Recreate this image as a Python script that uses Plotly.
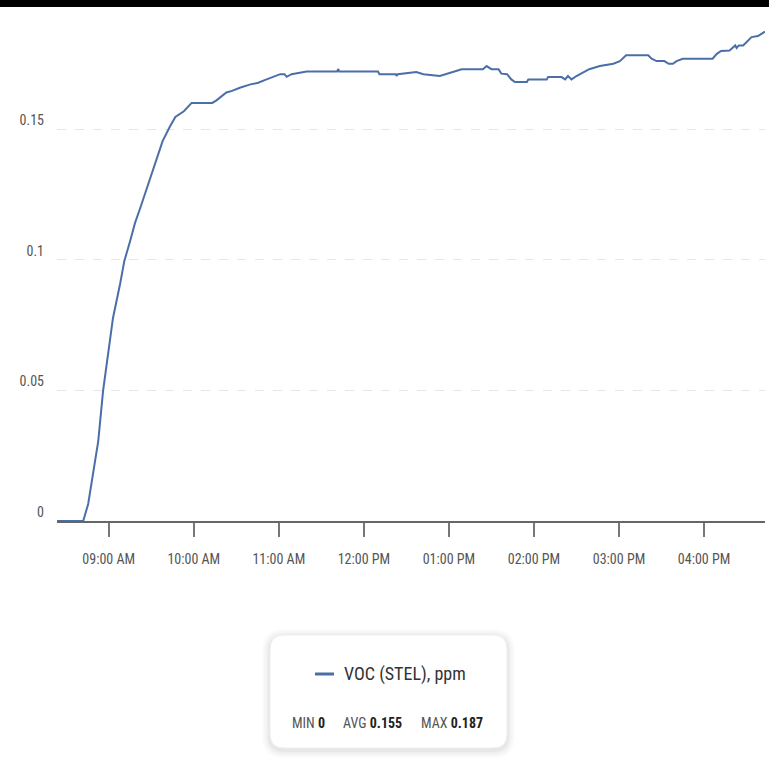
import plotly.graph_objects as go

# ---- data ----
times = [
    "08:23:30", "08:42:00", "08:45:30", "08:49:00", "08:52:36", "08:56:00", "09:00:00",
    "09:03:00", "09:08:00", "09:11:00", "09:15:00", "09:18:30", "09:22:00", "09:27:00",
    "09:30:00", "09:35:00", "09:38:00", "09:43:00", "09:47:00", "09:53:00", "09:58:30",
    "10:04:00", "10:13:00", "10:16:00", "10:20:00", "10:23:00", "10:27:00", "10:32:30",
    "10:40:00", "10:45:30", "10:50:00", "10:56:00", "11:01:00", "11:04:00", "11:05:30",
    "11:09:00", "11:19:36", "11:41:00", "11:42:00", "11:42:30", "12:10:00", "12:11:00",
    "12:22:36", "12:23:00", "12:24:00", "12:37:00", "12:42:00", "12:53:36", "13:02:00",
    "13:09:00", "13:24:00", "13:26:36", "13:30:00", "13:35:00", "13:37:00", "13:41:00",
    "13:44:00", "13:46:36", "13:55:00", "13:56:00", "14:09:00", "14:10:00", "14:19:30",
    "14:22:00", "14:24:00", "14:26:30", "14:30:00", "14:35:00", "14:39:00", "14:46:30",
    "14:56:00", "15:00:36", "15:05:00", "15:20:36", "15:23:00", "15:26:30", "15:32:00",
    "15:35:00", "15:38:00", "15:40:36", "15:45:00", "16:06:00", "16:09:00", "16:12:00",
    "16:18:00", "16:22:00", "16:23:00", "16:24:30", "16:27:36", "16:33:30", "16:38:00",
    "16:43:00",
]
voc_stel = [
    0.0, 0.0, 0.0065, 0.018, 0.0306, 0.0498, 0.065,
    0.0777, 0.0907, 0.0995, 0.107, 0.114, 0.1194, 0.1274,
    0.1328, 0.1405, 0.1454, 0.1508, 0.1546, 0.1568, 0.160,
    0.160, 0.160, 0.161, 0.1626, 0.164, 0.1646, 0.1658,
    0.1671, 0.1677, 0.1687, 0.170, 0.171, 0.171, 0.170,
    0.171, 0.172, 0.172, 0.173, 0.172, 0.172, 0.171,
    0.171, 0.1703, 0.171, 0.1718, 0.171, 0.1703, 0.1718,
    0.1729, 0.1729, 0.1741, 0.1729, 0.1729, 0.1712, 0.171,
    0.169, 0.168, 0.168, 0.169, 0.169, 0.1699, 0.1699,
    0.169, 0.1703, 0.169, 0.1703, 0.1716, 0.1729, 0.1741,
    0.175, 0.176, 0.1782, 0.1782, 0.1769, 0.176, 0.176,
    0.175, 0.175, 0.176, 0.1769, 0.1769, 0.1788, 0.1799,
    0.1801, 0.182, 0.181, 0.182, 0.182, 0.1852, 0.1856,
    0.1873,
]
series_name = "VOC (STEL), ppm"
stat_labels = ["MIN", "AVG", "MAX"]
stat_values = ["0", "0.155", "0.187"]
y_ticks = [0, 0.05, 0.1, 0.15]
y_tick_text = ["0", "0.05", "0.1", "0.15"]

DAY = "2024-01-01 "
x_vals = [DAY + t for t in times]

LINE = "#4a6fa8"
FONT = "Roboto Condensed, Roboto, sans-serif"

# layout geometry (pixels)
W, H = 769, 760
L, R, T, B = 57, 4, 10, 239
PW = W - L - R
PH = H - T - B


def px(x):
    return (x - L) / PW


def py(y):
    return (H - B - y) / PH


def rrect(x0, y0, x1, y1, r):
    # rounded rectangle path in paper coordinates, from pixel box
    X0, X1 = px(x0), px(x1)
    Y0, Y1 = py(y0), py(y1)  # Y0 top (bigger), Y1 bottom
    rx, ry = r / PW, r / PH
    return (f"M {X0+rx},{Y0} L {X1-rx},{Y0} Q {X1},{Y0} {X1},{Y0-ry} "
            f"L {X1},{Y1+ry} Q {X1},{Y1} {X1-rx},{Y1} L {X0+rx},{Y1} "
            f"Q {X0},{Y1} {X0},{Y1+ry} L {X0},{Y0-ry} Q {X0},{Y0} {X0+rx},{Y0} Z")


fig = go.Figure()
fig.add_trace(go.Scatter(
    x=x_vals, y=voc_stel, mode="lines", name=series_name,
    line=dict(color=LINE, width=2), showlegend=False,
))

shapes = []
# top black bar
shapes.append(dict(type="rect", xref="paper", yref="paper",
                   x0=px(0), x1=px(W), y0=py(7), y1=py(0),
                   fillcolor="black", line=dict(width=0), layer="above"))
# legend box shadow + box
for i, a in [(8, 0.015), (6, 0.02), (4, 0.025), (2, 0.035)]:
    shapes.append(dict(type="path", xref="paper", yref="paper",
                       path=rrect(270 - i, 635 - i + 2, 507 + i, 748 + i + 2, 14 + i),
                       fillcolor=f"rgba(0,0,0,{a})", line=dict(width=0)))
shapes.append(dict(type="path", xref="paper", yref="paper",
                   path=rrect(270, 635, 507, 748, 14),
                   fillcolor="white", line=dict(color="#eeeeee", width=1)))
# legend line sample
shapes.append(dict(type="line", xref="paper", yref="paper",
                   x0=px(315), x1=px(334), y0=py(674), y1=py(674),
                   line=dict(color=LINE, width=3)))

annotations = [dict(
    xref="paper", yref="paper", x=px(342), y=py(674), xanchor="left", yanchor="middle",
    text=series_name, showarrow=False, font=dict(family=FONT, size=18, color="#333333"),
)]
stat_centers = [308, 372, 452]
for lab, val, cx in zip(stat_labels, stat_values, stat_centers):
    annotations.append(dict(
        xref="paper", yref="paper", x=px(cx), y=py(723), xanchor="center", yanchor="middle",
        text=f"<span style='color:#555555'>{lab}</span> <b>{val}</b>",
        showarrow=False, font=dict(family=FONT, size=14, color="#222222"),
    ))

fig.update_layout(
    width=W, height=H,
    margin=dict(l=L, r=R, t=T, b=B, pad=0),
    paper_bgcolor="white", plot_bgcolor="white",
    shapes=shapes, annotations=annotations,
    showlegend=False,
    xaxis=dict(
        type="date",
        range=[DAY + "08:23:30", DAY + "16:43:00"],
        tick0=DAY + "09:00:00", dtick=3600000,
        tickformat="%I:%M %p",
        showgrid=False, zeroline=False,
        showline=True, linecolor="#666666", linewidth=1.5,
        ticks="outside", ticklen=14, tickwidth=1.5, tickcolor="#777777",
        ticklabelstandoff=10,
        tickfont=dict(family=FONT, size=14, color="#555555"),
    ),
    yaxis=dict(
        range=[0, PH / 2613],
        tickvals=y_ticks, ticktext=y_tick_text,
        showgrid=True, gridcolor="#e6e6e6", griddash="dash", gridwidth=1,
        zeroline=False, showline=False, ticks="",
        ticklabelstandoff=12, ticklabelshift=-9,
        tickfont=dict(family=FONT, size=14, color="#555555"),
    ),
)

fig.write_html("out.html", config={"displayModeBar": False},
               post_script="document.body.style.margin='0';")
